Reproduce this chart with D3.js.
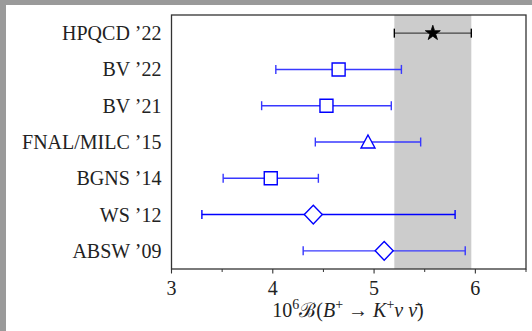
<!DOCTYPE html>
<html>
<head>
<meta charset="utf-8">
<script src="https://cdn.jsdelivr.net/npm/d3@7"></script>
<style>
  body { margin: 0; background: #fff; }
  svg { display: block; }
  text { font-family: "Liberation Serif", "DejaVu Serif", serif; fill: #222; }
</style>
</head>
<body>
<div id="chart"></div>
<script>
// rows top to bottom
const labels = ["HPQCD ’22", "BV ’22", "BV ’21", "FNAL/MILC ’15", "BGNS ’14", "WS ’12", "ABSW ’09"];
const centres = [5.58, 4.65, 4.53, 4.94, 3.98, 4.40, 5.10];
const errLow = [0.38, 0.62, 0.64, 0.52, 0.47, 1.10, 0.80];
const errHigh = [0.38, 0.62, 0.64, 0.52, 0.47, 1.40, 0.80];
const markers = ["star", "square", "square", "triangle", "square", "diamond", "diamond"];
const colourNames = ["black", "blue", "blue", "blue", "blue", "blue", "blue"];
const bandRange = [5.20, 5.96];
const majorTicks = [3, 4, 5, 6];
const minorTicks = [3.5, 4.5, 5.5, 6.5];

const width = 532, height = 331;
const plotLeft = 171.5, plotRight = 526, plotTop = 15, plotBottom = 269;

const svg = d3.select("#chart").append("svg")
  .attr("width", width).attr("height", height);

// grey frame around the figure (top and left)
svg.append("rect").attr("x", 0).attr("y", 0).attr("width", width).attr("height", 5).attr("fill", "#9a9a9a");
svg.append("rect").attr("x", 0).attr("y", 0).attr("width", 6).attr("height", height).attr("fill", "#9a9a9a");

const x = d3.scaleLinear().domain([3, 6.5]).range([plotLeft, plotRight]);
const y = d3.scaleLinear().domain([0.5, 7.5]).range([plotTop, plotBottom]);

// shaded band
svg.append("rect")
  .attr("x", x(bandRange[0])).attr("y", plotTop)
  .attr("width", x(bandRange[1]) - x(bandRange[0]))
  .attr("height", plotBottom - plotTop)
  .attr("fill", "#cccccc");

// frame
svg.append("rect")
  .attr("x", plotLeft).attr("y", plotTop)
  .attr("width", plotRight - plotLeft).attr("height", plotBottom - plotTop)
  .attr("fill", "none").attr("stroke", "#333").attr("stroke-width", 1.3);

// x axis ticks, pointing outward
const xAxis = svg.append("g").attr("transform", `translate(0,${plotBottom})`);
xAxis.selectAll("line.major").data(majorTicks).enter().append("line")
  .attr("class", "major")
  .attr("x1", d => x(d)).attr("x2", d => x(d))
  .attr("y1", 0).attr("y2", 4.5)
  .attr("stroke", "#333").attr("stroke-width", 1.1);
xAxis.selectAll("line.minor").data(minorTicks).enter().append("line")
  .attr("class", "minor")
  .attr("x1", d => x(d)).attr("x2", d => x(d))
  .attr("y1", 0).attr("y2", 3)
  .attr("stroke", "#333").attr("stroke-width", 1);
xAxis.selectAll("text").data(majorTicks).enter().append("text")
  .attr("x", d => x(d)).attr("y", 26)
  .attr("text-anchor", "middle")
  .style("font-size", "20px")
  .text(d => d);

// axis title: 10^6 B(B+ -> K+ nu nubar)
const title = svg.append("text")
  .attr("x", 348).attr("y", 317)
  .attr("text-anchor", "middle")
  .style("font-size", "20px");
title.append("tspan").text("10");
title.append("tspan").attr("dy", -8).style("font-size", "14px").text("6");
title.append("tspan").attr("dy", 8).text("ℬ");
title.append("tspan").text("(");
title.append("tspan").style("font-style", "italic").text("B");
title.append("tspan").attr("dy", -8).style("font-size", "14px").text("+");
title.append("tspan").attr("dy", 8).text(" → ");
title.append("tspan").style("font-style", "italic").text("K");
title.append("tspan").attr("dy", -8).style("font-size", "14px").text("+");
title.append("tspan").attr("dy", 8).style("font-style", "italic").text("ν ν̄");
title.append("tspan").text(")");

// row labels
svg.selectAll("text.label").data(labels).enter().append("text")
  .attr("class", "label")
  .attr("x", plotLeft - 10)
  .attr("y", (d, i) => y(i + 1))
  .attr("dy", "0.35em")
  .attr("text-anchor", "end")
  .style("font-size", "20px")
  .text(d => d);

// error bars
const rows = labels.map((label, i) => ({
  label, i,
  c: centres[i], lo: centres[i] - errLow[i], hi: centres[i] + errHigh[i],
  marker: markers[i], colour: colourNames[i]
}));

const barColour = d => d.colour === "black" ? "#444" : (d.i === 5 ? "#0000ff" : "#3838ff");
const capColour = d => d.colour === "black" ? "#000" : barColour(d);

const g = svg.selectAll("g.row").data(rows).enter().append("g")
  .attr("class", "row")
  .attr("transform", d => `translate(0,${y(d.i + 1)})`);

g.append("line")
  .attr("x1", d => x(d.lo)).attr("x2", d => x(d.hi))
  .attr("stroke", barColour).attr("stroke-width", 1.4);
g.append("line")
  .attr("x1", d => x(d.lo)).attr("x2", d => x(d.lo))
  .attr("y1", -4.5).attr("y2", 4.5)
  .attr("stroke", capColour).attr("stroke-width", 1.4);
g.append("line")
  .attr("x1", d => x(d.hi)).attr("x2", d => x(d.hi))
  .attr("y1", -4.5).attr("y2", 4.5)
  .attr("stroke", capColour).attr("stroke-width", 1.4);

// markers
const shapes = {
  star: d3.symbol().type(d3.symbolStar).size(70)(),
  square: "M-6.5,-6.5H6.5V6.5H-6.5Z",
  triangle: "M0,-7L7,6H-7Z",
  diamond: "M0,-9.3L9,0L0,9.3L-9,0Z"
};
g.append("path")
  .attr("transform", d => `translate(${x(d.c)},0)`)
  .attr("d", d => shapes[d.marker])
  .attr("fill", d => d.marker === "star" ? "#000" : "#fff")
  .attr("stroke", d => d.marker === "star" ? "#000" : "#0000ff")
  .attr("stroke-width", d => d.marker === "star" ? 0.8 : 1.4);
</script>
</body>
</html>
